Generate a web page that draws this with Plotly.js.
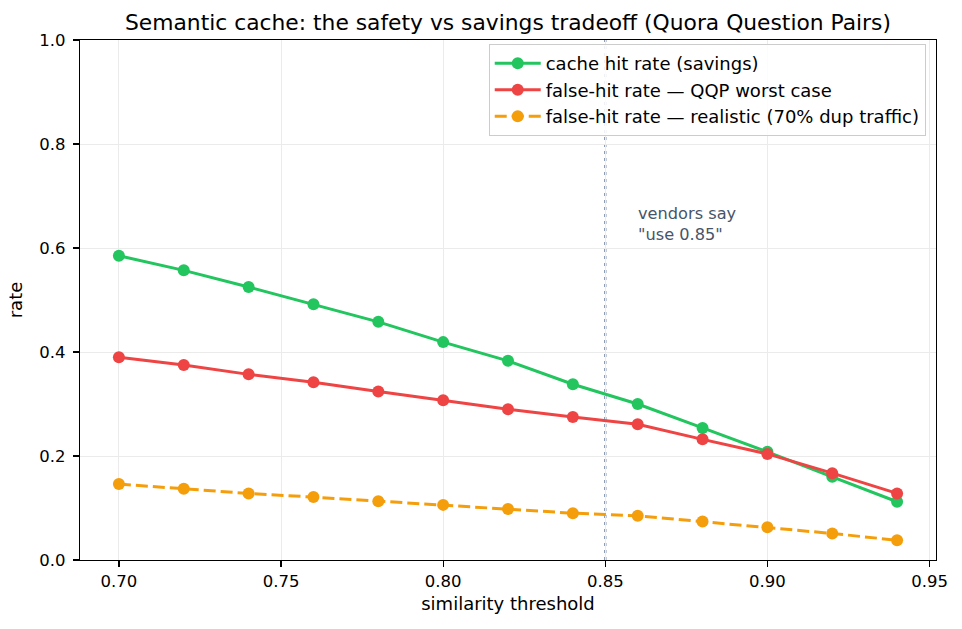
<!DOCTYPE html>
<html>
<head>
<meta charset="utf-8">
<script src="https://cdn.plot.ly/plotly-3.0.1.min.js"></script>
<style>html,body{margin:0;padding:0;background:#fff;}#chart{width:962px;height:629px;}</style>
</head>
<body>
<div id="chart"></div>
<script>
const thresholds = [0.70, 0.72, 0.74, 0.76, 0.78, 0.80, 0.82, 0.84, 0.86, 0.88, 0.90, 0.92, 0.94];
const cacheHitRate = [0.585, 0.557, 0.525, 0.492, 0.458, 0.419, 0.383, 0.338, 0.300, 0.254, 0.208, 0.160, 0.112];
const falseHitWorst = [0.390, 0.375, 0.357, 0.342, 0.324, 0.307, 0.290, 0.275, 0.261, 0.232, 0.204, 0.167, 0.128];
const falseHitRealistic = [0.146, 0.137, 0.128, 0.121, 0.113, 0.106, 0.098, 0.090, 0.085, 0.074, 0.063, 0.051, 0.038];
const seriesNames = [
  'cache hit rate (savings)',
  'false-hit rate \u2014 QQP worst case',
  'false-hit rate \u2014 realistic (70% dup traffic)'
];
const xTicks = [0.70, 0.75, 0.80, 0.85, 0.90, 0.95];
const yTicks = [0.0, 0.2, 0.4, 0.6, 0.8, 1.0];
const vendorThreshold = 0.85;
const vendorNote = 'vendors say<br>"use 0.85"';
const vendorNoteX = 0.86;
const vendorNoteY = 0.646;

const FONT = 'DejaVu Sans, sans-serif';
const mk = (y, name, color, dash) => ({
  x: thresholds, y: y, name: name, type: 'scatter', mode: 'lines+markers',
  line: {color: color, width: 3, dash: dash},
  marker: {color: color, size: 12}
});

const data = [
  mk(cacheHitRate, seriesNames[0], '#22c55e', 'solid'),
  mk(falseHitWorst, seriesNames[1], '#ef4444', 'solid'),
  mk(falseHitRealistic, seriesNames[2], '#f59e0b', '12px,5px')
];

const axisCommon = {
  showline: true, mirror: true, linecolor: '#000', linewidth: 1.3,
  ticks: 'outside', ticklen: 6, tickwidth: 1.3, tickcolor: '#000',
  showgrid: true, gridcolor: '#ebebeb', gridwidth: 1,
  zeroline: false,
  tickfont: {family: FONT, size: 16.5, color: '#000'}
};

const layout = {
  width: 962, height: 629,
  margin: {l: 80, r: 26, t: 40, b: 69},
  paper_bgcolor: '#fff', plot_bgcolor: '#fff',
  font: {family: FONT, color: '#000'},
  title: {
    text: 'Semantic cache: the safety vs savings tradeoff (Quora Question Pairs)',
    font: {family: FONT, size: 21.8, color: '#000'},
    x: 0.5, xref: 'paper', xanchor: 'center',
    y: 1 - 22 / 629, yref: 'container', yanchor: 'middle'
  },
  xaxis: Object.assign({}, axisCommon, {
    range: [0.688, 0.952],
    tickvals: xTicks, tickformat: '.2f',
    title: {text: 'similarity threshold', font: {family: FONT, size: 18, color: '#000'}, standoff: 7}
  }),
  yaxis: Object.assign({}, axisCommon, {
    range: [0, 1],
    tickvals: yTicks, tickformat: '.1f',
    ticklabelstandoff: 4,
    title: {text: 'rate', font: {family: FONT, size: 18, color: '#000'}, standoff: 12}
  }),
  legend: {
    x: 0.988, xanchor: 'right', y: 0.992, yanchor: 'top',
    bgcolor: 'rgba(255,255,255,0.85)', bordercolor: '#cccccc', borderwidth: 1,
    font: {family: FONT, size: 18, color: '#000'},
    itemwidth: 46
  },
  shapes: [{
    type: 'line', xref: 'x', yref: 'paper',
    x0: vendorThreshold, x1: vendorThreshold, y0: 0, y1: 1,
    line: {color: '#8e9cb1', width: 2.5, dash: '3px,4px'},
    layer: 'below'
  }],
  annotations: [{
    x: vendorNoteX, y: vendorNoteY, xref: 'x', yref: 'y',
    text: vendorNote, showarrow: false, xanchor: 'left', yanchor: 'middle', align: 'left',
    xshift: -2,
    font: {family: FONT, size: 16.2, color: '#475569'}
  }]
};

Plotly.newPlot('chart', data, layout, {displayModeBar: false, staticPlot: true});
</script>
</body>
</html>
